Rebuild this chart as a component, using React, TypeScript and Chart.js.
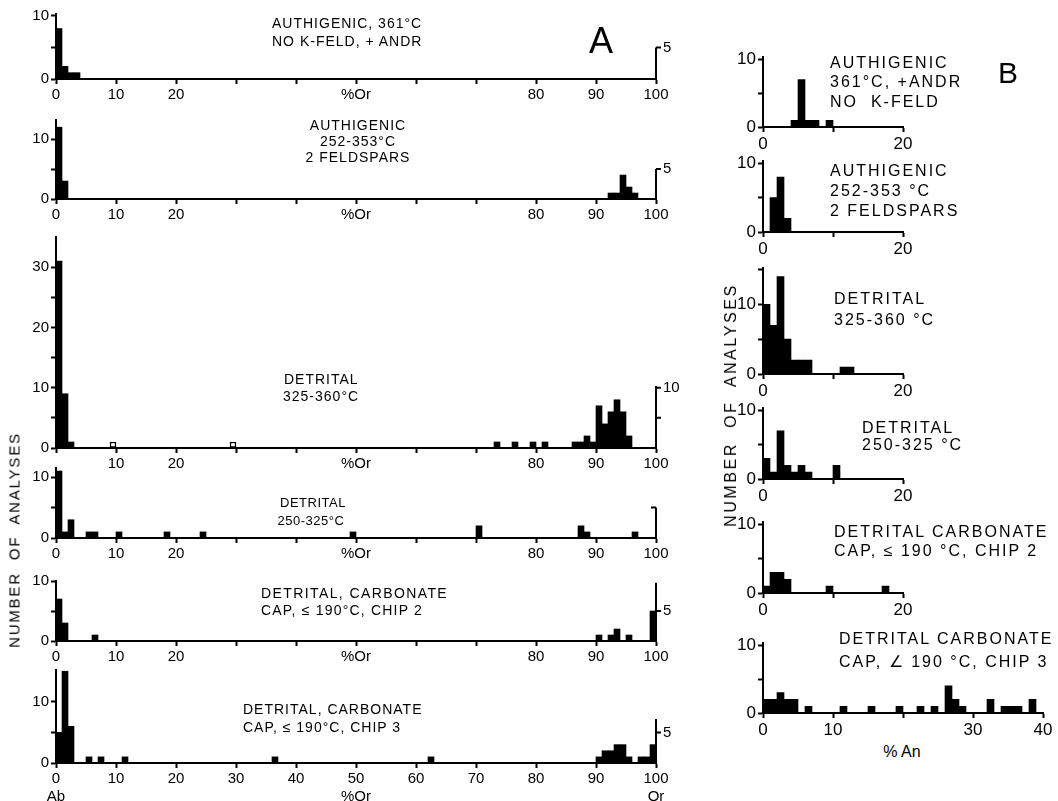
import React, { useEffect, useRef } from 'react';
import { Chart, registerables } from 'chart.js';

Chart.register(...registerables);

const FONT = "'Liberation Sans', Arial, sans-serif";
Chart.defaults.font.family = FONT;

// ---------- Panel A: % Or, 1 % bins (0-100) ----------
const a1Bins = [0, 1, 2, 3];
const a1Counts = [8, 2, 1, 1];
const a2Bins = [0, 1, 92, 93, 94, 95, 96];
const a2Counts = [12, 3, 1, 1, 4, 2, 1];
const a3Bins = [0, 1, 2, 73, 76, 79, 81, 86, 87, 88, 89, 90, 91, 92, 93, 94, 95];
const a3Counts = [31, 9, 1, 1, 1, 1, 1, 1, 1, 2, 1, 7, 4, 6, 8, 6, 2];
const a3OpenBins = [9, 29];
const a3OpenCounts = [1, 1];
const a4Bins = [0, 1, 2, 5, 6, 10, 18, 24, 49, 70, 87, 88, 96];
const a4Counts = [11, 1, 3, 1, 1, 1, 1, 1, 1, 2, 2, 1, 1];
const a5Bins = [0, 1, 6, 90, 92, 93, 95, 99];
const a5Counts = [7, 3, 1, 1, 1, 2, 1, 5];
const a6Bins = [0, 1, 2, 5, 7, 11, 36, 62, 90, 91, 92, 93, 94, 95, 97, 98, 99];
const a6Counts = [5, 15, 6, 1, 1, 1, 1, 1, 1, 2, 2, 3, 3, 1, 1, 1, 3];

// ---------- Panel B: % An, 1 % bins ----------
const b1Bins = [4, 5, 6, 7, 9];
const b1Counts = [1, 7, 1, 1, 1];
const b2Bins = [1, 2, 3];
const b2Counts = [5, 8, 2];
const b3Bins = [0, 1, 2, 3, 4, 5, 6, 11, 12];
const b3Counts = [10, 7, 14, 5, 2, 2, 2, 1, 1];
const b4Bins = [0, 1, 2, 3, 4, 5, 6, 10];
const b4Counts = [3, 1, 7, 2, 1, 2, 1, 2];
const b5Bins = [0, 1, 2, 3, 9, 17];
const b5Counts = [1, 3, 3, 2, 1, 1];
const b6Bins = [0, 1, 2, 3, 4, 6, 11, 15, 19, 22, 24, 26, 27, 28, 32, 34, 35, 36, 38];
const b6Counts = [2, 2, 3, 2, 2, 1, 1, 1, 1, 1, 1, 4, 2, 1, 2, 1, 1, 1, 2];

// ---------- tick values / labels ----------
const aTickValues = [0, 10, 20, 30, 40, 50, 60, 70, 80, 90, 100];
const aTickLabels = ['0', '10', '20', '', '', '%Or', '', '', '80', '90', '100'];
const a3TickLabels = ['', '10', '20', '', '', '%Or', '', '', '80', '90', '100'];
const a6TickLabels = [['0', 'Ab'], '10', '20', '30', '40', ['50', '%Or'], '60', '70', '80', '90', ['100', 'Or']];
const b20TickValues = [0, 10, 20];
const b20TickLabels = ['0', '', '20'];
const b40TickValues = [0, 10, 20, 30, 40];
const b40TickLabels = ['0', '10', '', '30', '40'];
const yTicks10 = [0, 5, 10];
const yTicks15 = [0, 5, 10, 15];
const yTicks30 = [0, 5, 10, 15, 20, 25, 30];

type RightAxis = { top: number; ticks: { v: number; dir: number; label?: string }[] };
type Spec = {
  bins: number[];
  counts: number[];
  openBins?: number[];
  openCounts?: number[];
  xMax: number;
  xTicks: number[];
  xLabels: any[];
  yTicks: number[];
  yMax: number;
  right?: RightAxis;
  // layout
  left: number;
  baseline: number;
  plotW: number;
  ppu: number;
  yAxisW: number;
  padRight: number;
  padTop: number;
  xAxisH: number;
  fontSize: number;
};

const A = { xMax: 100, xTicks: aTickValues, left: 56, plotW: 600, yAxisW: 56, padRight: 34, padTop: 12, xAxisH: 26, fontSize: 15 };
const B = { left: 763, yAxisW: 56, padRight: 22, padTop: 12, xAxisH: 30, fontSize: 17 };

const panels: Spec[] = [
  { ...A, bins: a1Bins, counts: a1Counts, xLabels: aTickLabels, yTicks: yTicks10, yMax: 10.3, baseline: 79, ppu: 6.3,
    right: { top: 5, ticks: [{ v: 5, dir: 1, label: '5' }] } },
  { ...A, bins: a2Bins, counts: a2Counts, xLabels: aTickLabels, yTicks: yTicks10, yMax: 13.2, baseline: 199, ppu: 6.0,
    right: { top: 5, ticks: [{ v: 5, dir: 1, label: '5' }] } },
  { ...A, bins: a3Bins, counts: a3Counts, openBins: a3OpenBins, openCounts: a3OpenCounts, xLabels: a3TickLabels, yTicks: yTicks30, yMax: 35, baseline: 448, ppu: 6.03,
    right: { top: 10.3, ticks: [{ v: 5, dir: 1 }, { v: 10, dir: 1, label: '10' }] } },
  { ...A, bins: a4Bins, counts: a4Counts, xLabels: aTickLabels, yTicks: yTicks10, yMax: 11.5, baseline: 538, ppu: 6.06,
    right: { top: 5, ticks: [{ v: 5, dir: -1 }] } },
  { ...A, bins: a5Bins, counts: a5Counts, xLabels: aTickLabels, yTicks: yTicks10, yMax: 10, baseline: 641, ppu: 6.0,
    right: { top: 9.7, ticks: [{ v: 5, dir: 1, label: '5' }] } },
  { ...A, bins: a6Bins, counts: a6Counts, xLabels: a6TickLabels, yTicks: yTicks10, yMax: 15.2, baseline: 763, ppu: 6.1, xAxisH: 44,
    right: { top: 7.2, ticks: [{ v: 5, dir: 1, label: '5' }] } },

  { ...B, bins: b1Bins, counts: b1Counts, xMax: 20, xTicks: b20TickValues, xLabels: b20TickLabels, yTicks: yTicks10, yMax: 10.3, baseline: 127, ppu: 6.8, plotW: 140 },
  { ...B, bins: b2Bins, counts: b2Counts, xMax: 20, xTicks: b20TickValues, xLabels: b20TickLabels, yTicks: yTicks10, yMax: 10.3, baseline: 232, ppu: 6.9, plotW: 140 },
  { ...B, bins: b3Bins, counts: b3Counts, xMax: 20, xTicks: b20TickValues, xLabels: b20TickLabels, yTicks: yTicks15, yMax: 15.2, baseline: 374, ppu: 7.0, plotW: 140 },
  { ...B, bins: b4Bins, counts: b4Counts, xMax: 20, xTicks: b20TickValues, xLabels: b20TickLabels, yTicks: yTicks10, yMax: 10.3, baseline: 479, ppu: 6.9, plotW: 140 },
  { ...B, bins: b5Bins, counts: b5Counts, xMax: 20, xTicks: b20TickValues, xLabels: b20TickLabels, yTicks: yTicks10, yMax: 10.3, baseline: 593, ppu: 6.9, plotW: 140 },
  { ...B, bins: b6Bins, counts: b6Counts, xMax: 40, xTicks: b40TickValues, xLabels: b40TickLabels, yTicks: yTicks10, yMax: 10.3, baseline: 713, ppu: 6.8, plotW: 280 },
];

type TextItem = { t: string; x: number; cy: number; size: number; sp: number; center?: boolean };
const texts: TextItem[] = [
  { t: 'AUTHIGENIC, 361°C', x: 272, cy: 23, size: 14, sp: 1 },
  { t: 'NO K-FELD, + ANDR', x: 272, cy: 41, size: 14, sp: 1 },
  { t: 'AUTHIGENIC', x: 358, cy: 125, size: 14, sp: 1, center: true },
  { t: '252-353°C', x: 358, cy: 141, size: 14, sp: 1, center: true },
  { t: '2 FELDSPARS', x: 358, cy: 157, size: 14, sp: 1, center: true },
  { t: 'DETRITAL', x: 284, cy: 379, size: 14, sp: 1 },
  { t: '325-360°C', x: 283, cy: 396, size: 14, sp: 1 },
  { t: 'DETRITAL', x: 313, cy: 502, size: 13, sp: 0.5, center: true },
  { t: '250-325°C', x: 311, cy: 520, size: 13, sp: 0.5, center: true },
  { t: 'DETRITAL, CARBONATE', x: 261, cy: 593, size: 14, sp: 1.4 },
  { t: 'CAP, ≤ 190°C, CHIP 2', x: 261, cy: 610, size: 14, sp: 1.2 },
  { t: 'DETRITAL, CARBONATE', x: 243, cy: 709, size: 14, sp: 1 },
  { t: 'CAP, ≤ 190°C, CHIP 3', x: 243, cy: 727, size: 14, sp: 1 },

  { t: 'AUTHIGENIC', x: 830, cy: 63, size: 16, sp: 2 },
  { t: '361°C, +ANDR', x: 830, cy: 82, size: 16, sp: 2 },
  { t: 'NO  K-FELD', x: 830, cy: 102, size: 16, sp: 2 },
  { t: 'AUTHIGENIC', x: 830, cy: 171, size: 16, sp: 2 },
  { t: '252-353 °C', x: 830, cy: 191, size: 16, sp: 2 },
  { t: '2 FELDSPARS', x: 830, cy: 211, size: 16, sp: 2 },
  { t: 'DETRITAL', x: 834, cy: 299, size: 16, sp: 2 },
  { t: '325-360 °C', x: 834, cy: 320, size: 16, sp: 2 },
  { t: 'DETRITAL', x: 862, cy: 428, size: 16, sp: 2 },
  { t: '250-325 °C', x: 862, cy: 445, size: 16, sp: 2 },
  { t: 'DETRITAL CARBONATE', x: 834, cy: 532, size: 16, sp: 2 },
  { t: 'CAP, ≤ 190 °C, CHIP 2', x: 834, cy: 551, size: 16, sp: 2 },
  { t: 'DETRITAL CARBONATE', x: 839, cy: 639, size: 16, sp: 2 },
  { t: 'CAP, ∠ 190 °C, CHIP 3', x: 839, cy: 662, size: 16, sp: 2 },
  { t: '% An', x: 902, cy: 752, size: 16, sp: 0, center: true },
  { t: 'A', x: 601, cy: 41, size: 36, sp: 0, center: true },
  { t: 'B', x: 1008, cy: 73, size: 30, sp: 0, center: true },
];

function Hist({ s }: { s: Spec }) {
  const ref = useRef<HTMLCanvasElement>(null);
  const areaH = Math.round(s.yMax * s.ppu);
  const width = s.yAxisW + s.plotW + s.padRight;
  const height = s.padTop + areaH + s.xAxisH;

  useEffect(() => {
    const full = Array.from({ length: s.xMax }, (_, i) => ({ x: i + 0.5, y: 0 }));
    s.bins.forEach((b, i) => { full[b].y = s.counts[i]; });
    const datasets: any[] = [
      { data: full, backgroundColor: '#000', borderWidth: 0, grouped: false, barPercentage: 1, categoryPercentage: 1 },
    ];
    if (s.openBins && s.openCounts) {
      datasets.push({
        data: s.openBins.map((b, i) => ({ x: b + 0.5, y: s.openCounts![i] })),
        backgroundColor: '#fff', borderColor: '#000', borderWidth: 1.5, borderSkipped: false,
        grouped: false, barPercentage: 1, categoryPercentage: 1,
      });
    }
    const rightPlugin = {
      id: 'rightAxis',
      afterDraw(chart: any) {
        if (!s.right) return;
        const { ctx } = chart;
        const xs = chart.scales.x;
        const ys = chart.scales.y;
        const x = xs.getPixelForValue(s.xMax);
        ctx.save();
        ctx.strokeStyle = '#000';
        ctx.fillStyle = '#000';
        ctx.lineWidth = 2;
        ctx.beginPath();
        ctx.moveTo(x, ys.getPixelForValue(0));
        ctx.lineTo(x, ys.getPixelForValue(s.right.top));
        s.right.ticks.forEach((t) => {
          const y = ys.getPixelForValue(t.v);
          ctx.moveTo(x, y);
          ctx.lineTo(x + t.dir * 5, y);
        });
        ctx.stroke();
        ctx.font = `${s.fontSize}px ${FONT}`;
        ctx.textBaseline = 'middle';
        ctx.textAlign = 'left';
        s.right.ticks.forEach((t) => {
          if (t.label) ctx.fillText(t.label, x + 7, ys.getPixelForValue(t.v));
        });
        ctx.restore();
      },
    };
    const tickFont = { family: FONT, size: s.fontSize };
    const chart = new Chart(ref.current as HTMLCanvasElement, {
      type: 'bar',
      data: { datasets },
      plugins: [rightPlugin],
      options: {
        responsive: false,
        animation: false,
        events: [],
        layout: { padding: { top: s.padTop, right: s.padRight, left: 0, bottom: 0 } },
        plugins: { legend: { display: false }, tooltip: { enabled: false }, title: { display: false } },
        scales: {
          x: {
            type: 'linear',
            min: 0,
            max: s.xMax,
            offset: false,
            grid: { display: true, offset: false, drawOnChartArea: false, drawTicks: true, tickLength: 5, tickWidth: 2, tickColor: '#000' },
            border: { display: true, color: '#000', width: 2 },
            ticks: {
              autoSkip: false, maxRotation: 0, minRotation: 0, color: '#000', font: tickFont, padding: 2,
              callback: (_v: any, i: number) => s.xLabels[i],
            },
            afterBuildTicks: (sc: any) => { sc.ticks = s.xTicks.map((v) => ({ value: v })); },
            afterFit: (sc: any) => { sc.height = s.xAxisH; },
          },
          y: {
            type: 'linear',
            min: 0,
            max: s.yMax,
            grid: { display: true, drawOnChartArea: false, drawTicks: true, tickLength: 5, tickWidth: 2, tickColor: '#000' },
            border: { display: true, color: '#000', width: 2 },
            ticks: {
              color: '#000', font: tickFont, padding: 2,
              callback: (v: any) => (Number(v) % 10 === 0 ? String(v) : ''),
            },
            afterBuildTicks: (sc: any) => { sc.ticks = s.yTicks.map((v) => ({ value: v })); },
            afterFit: (sc: any) => { sc.width = s.yAxisW; },
          },
        },
      } as any,
    });
    return () => chart.destroy();
  }, []);

  return (
    <canvas
      ref={ref}
      width={width}
      height={height}
      style={{ position: 'absolute', left: s.left - s.yAxisW, top: s.baseline - areaH - s.padTop, width, height }}
    />
  );
}

export default function App() {
  return (
    <div style={{ position: 'absolute', left: 0, top: 0, width: 1058, height: 801, background: '#fff', overflow: 'hidden', fontFamily: FONT, color: '#000' }}>
      {panels.map((s, i) => <Hist key={i} s={s} />)}
      {texts.map((t, i) => (
        <div
          key={'t' + i}
          style={{
            position: 'absolute', left: t.x, top: t.cy, whiteSpace: 'pre', lineHeight: 1,
            fontSize: t.size, letterSpacing: t.sp,
            transform: t.center ? 'translate(-50%, -50%)' : 'translateY(-50%)',
          }}
        >
          {t.t}
        </div>
      ))}
      <div style={{ position: 'absolute', left: 14, top: 540, whiteSpace: 'pre', lineHeight: 1, fontSize: 15, letterSpacing: 1.8, transform: 'translate(-50%, -50%) rotate(-90deg)' }}>
        NUMBER  OF  ANALYSES
      </div>
      <div style={{ position: 'absolute', left: 731, top: 405, whiteSpace: 'pre', lineHeight: 1, fontSize: 16, letterSpacing: 2.6, transform: 'translate(-50%, -50%) rotate(-90deg)' }}>
        NUMBER  OF  ANALYSES
      </div>
    </div>
  );
}
